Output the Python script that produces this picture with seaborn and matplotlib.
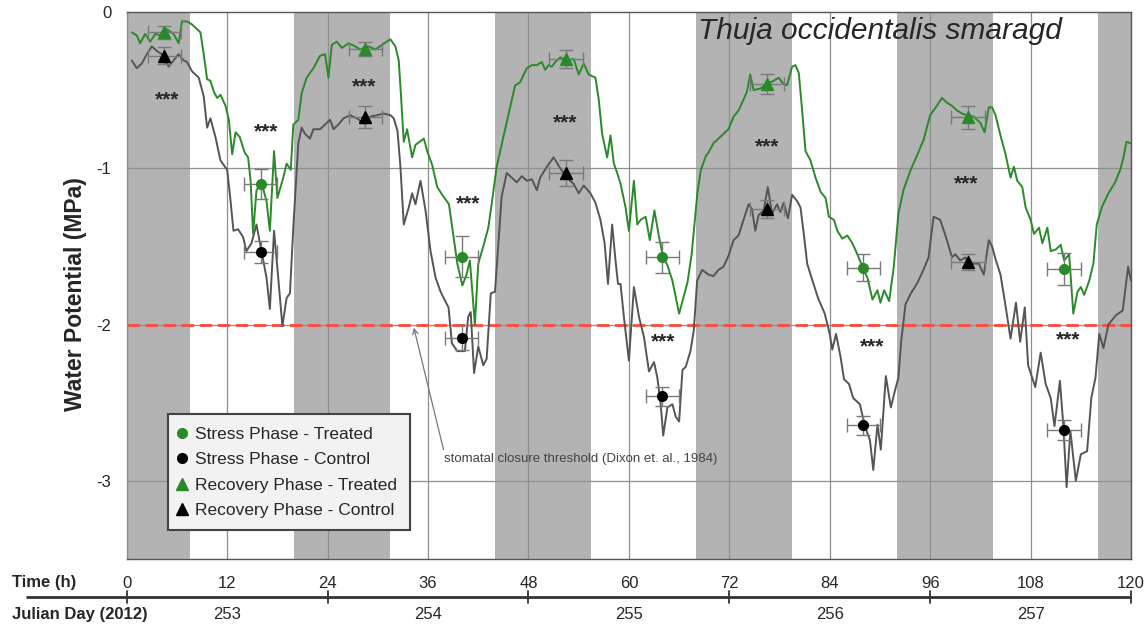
import numpy as np
import pandas as pd
import matplotlib
matplotlib.use("Agg")
import matplotlib.pyplot as plt
from matplotlib.lines import Line2D
import seaborn as sns

# ---- data (hours, MPa) ----
green_time = [0.6, 1.2, 1.6, 2.2, 2.8, 3.4, 4.0, 4.8, 5.6, 6.2, 6.6, 7.2, 7.8, 8.8, 9.2, 9.6, 10.0,
              10.4, 10.8, 11.2, 11.8, 12.2, 12.6, 13.0, 13.5, 14.1, 14.5, 14.8, 15.1, 15.5, 16.1,
              16.7, 17.1, 17.6, 18.0, 18.7, 19.1, 19.6, 19.9, 20.5, 20.9, 21.5, 22.3, 23.1, 23.7,
              24.1, 24.5, 25.1, 25.7, 26.5, 27.3, 27.9, 28.9, 29.7, 30.5, 31.5, 32.1, 32.5, 32.75,
              33.1, 33.5, 34.1, 34.5, 35.5, 35.9, 36.5, 37.1, 37.7, 38.5, 38.9, 39.5, 40.1, 40.6,
              41.0, 41.6, 42.0, 42.6, 43.2, 43.6, 44.2, 45.0, 45.6, 46.4, 47.0, 47.8, 48.4, 49.0,
              49.6, 50.0, 50.4, 50.8, 51.2, 51.8, 52.6, 53.4, 54.0, 54.6, 55.2, 56.0, 56.4, 56.8,
              57.4, 57.8, 58.2, 58.6, 59.0, 59.6, 60.0, 60.6, 61.0, 61.4, 62.0, 62.5, 63.05, 63.6,
              64.1, 64.6, 65.2, 66.0, 66.4, 67.0, 67.5, 68.2, 68.6, 69.2, 69.5, 70.1, 70.9, 71.9,
              72.5, 73.1, 73.7, 74.1, 74.5, 74.9, 75.7, 76.5, 77.3, 77.9, 78.3, 78.9, 79.5, 79.9,
              80.3, 80.7, 81.1, 81.7, 82.3, 82.9, 83.5, 83.9, 84.5, 84.9, 85.5, 86.1, 86.7, 87.3,
              87.9, 88.5, 89.1, 89.7, 90.05, 90.5, 91.1, 91.65, 92.2, 92.8, 93.6, 94.4, 95.2, 96.0,
              96.8, 97.4, 98.0, 98.6, 99.2, 99.8, 100.4, 101.2, 102.0, 102.5, 103.0, 103.4, 103.8,
              104.4, 105.0, 105.6, 106.0, 106.4, 107.0, 107.4, 108.0, 108.4, 109.0, 109.4, 110.0,
              110.4, 111.0, 111.6, 112.0, 112.6, 112.8, 113.1, 113.6, 114.0, 114.4, 115.0, 115.5,
              115.9, 116.5, 117.3, 118.1, 118.7, 119.1, 119.45, 119.95]
green_psi = [-0.13, -0.15, -0.20, -0.14, -0.19, -0.14, -0.15, -0.11, -0.14, -0.20, -0.06, -0.06,
             -0.08, -0.13, -0.27, -0.43, -0.44, -0.51, -0.55, -0.53, -0.60, -0.69, -0.91, -0.77,
             -0.80, -0.90, -0.93, -1.08, -1.42, -1.14, -1.09, -1.21, -1.40, -0.89, -1.19, -1.06,
             -0.97, -1.01, -0.72, -0.69, -0.52, -0.42, -0.36, -0.28, -0.27, -0.42, -0.21, -0.19,
             -0.23, -0.20, -0.22, -0.24, -0.22, -0.24, -0.21, -0.175, -0.22, -0.31, -0.52, -0.83,
             -0.75, -0.93, -0.85, -0.81, -0.89, -0.98, -1.12, -1.17, -1.23, -1.38, -1.61, -1.75,
             -1.68, -1.59, -2.00, -1.61, -1.50, -1.38, -1.23, -0.99, -0.80, -0.66, -0.47, -0.45,
             -0.36, -0.34, -0.34, -0.32, -0.37, -0.34, -0.35, -0.32, -0.29, -0.31, -0.30, -0.40,
             -0.33, -0.40, -0.42, -0.56, -0.78, -0.93, -0.79, -0.97, -1.03, -1.10, -1.25, -1.40,
             -1.08, -1.36, -1.33, -1.31, -1.46, -1.27, -1.44, -1.57, -1.62, -1.72, -1.93, -1.85,
             -1.73, -1.55, -1.15, -1.01, -0.92, -0.90, -0.84, -0.80, -0.75, -0.67, -0.63, -0.56,
             -0.51, -0.40, -0.50, -0.49, -0.46, -0.44, -0.42, -0.45, -0.47, -0.35, -0.34, -0.39,
             -0.63, -0.89, -0.95, -1.06, -1.15, -1.19, -1.31, -1.33, -1.40, -1.45, -1.43, -1.48,
             -1.55, -1.63, -1.70, -1.84, -1.78, -1.86, -1.78, -1.85, -1.63, -1.29, -1.14, -1.02,
             -0.92, -0.82, -0.66, -0.60, -0.55, -0.58, -0.60, -0.63, -0.65, -0.66, -0.67, -0.71,
             -0.77, -0.61, -0.61, -0.66, -0.79, -0.91, -1.06, -0.99, -1.08, -1.12, -1.25, -1.33,
             -1.42, -1.38, -1.48, -1.38, -1.53, -1.52, -1.49, -1.59, -1.55, -1.70, -1.93, -1.79,
             -1.76, -1.81, -1.72, -1.61, -1.36, -1.25, -1.16, -1.09, -1.01, -0.93, -0.83, -0.84]

control_time = [0.6, 1.2, 1.8, 2.4, 3.0, 3.6, 4.2, 5.0, 5.6, 6.2, 6.8, 7.2, 7.8, 8.6, 9.2, 9.6,
                10.0, 10.6, 11.2, 12.0, 12.35, 12.75, 13.3, 13.9, 14.3, 14.9, 15.5, 16.1, 16.7,
                17.1, 17.6, 18.1, 18.6, 19.1, 19.5, 19.9, 20.5, 20.9, 21.3, 21.9, 22.3, 23.1,
                23.7, 24.3, 24.7, 25.3, 25.9, 26.7, 27.5, 28.5, 29.1, 29.9, 30.7, 31.5, 31.9,
                32.35, 32.7, 33.1, 33.7, 34.1, 34.5, 35.1, 35.7, 36.3, 36.9, 37.5, 38.05, 38.45,
                38.85, 39.5, 40.4, 40.8, 41.1, 41.5, 42.0, 42.6, 43.0, 43.5, 44.0, 44.4, 44.8,
                45.4, 46.0, 46.6, 47.2, 47.8, 48.4, 49.0, 49.4, 50.2, 51.0, 51.8, 52.6, 53.4,
                54.0, 54.6, 55.4, 56.0, 56.6, 57.1, 57.5, 58.0, 58.4, 58.7, 59.0, 59.4, 60.0,
                60.6, 61.2, 61.8, 62.4, 63.0, 63.4, 63.8, 64.1, 64.6, 65.2, 65.6, 66.0, 66.4,
                66.8, 67.35, 67.75, 68.15, 68.75, 69.5, 70.1, 70.7, 71.3, 71.9, 72.5, 73.1,
                73.7, 74.3, 74.7, 75.1, 75.5, 76.1, 76.6, 77.1, 77.7, 78.1, 78.5, 79.0, 79.5,
                80.1, 80.5, 80.9, 81.3, 81.7, 82.6, 83.4, 84.0, 84.3, 84.75, 85.3, 85.7, 86.3,
                86.8, 87.6, 88.2, 88.8, 89.2, 89.7, 90.1, 90.7, 91.3, 91.8, 92.2, 92.55, 93.05,
                93.7, 94.5, 95.2, 95.8, 96.4, 97.2, 98.0, 98.6, 99.0, 99.6, 100.2, 100.6, 101.2,
                101.8, 102.4, 103.0, 103.4, 103.8, 104.4, 105.0, 105.6, 106.25, 106.75, 107.3,
                107.7, 108.55, 109.2, 109.8, 110.4, 110.85, 111.5, 111.9, 112.3, 112.75, 113.4,
                114.0, 114.75, 115.25, 115.75, 116.2, 116.7, 117.3, 118.2, 119.0, 119.65, 120.0]
control_psi = [-0.31, -0.36, -0.33, -0.27, -0.22, -0.25, -0.27, -0.35, -0.31, -0.27, -0.31, -0.32,
               -0.38, -0.42, -0.54, -0.74, -0.68, -0.80, -0.95, -1.01, -1.18, -1.40, -1.39,
               -1.44, -1.53, -1.48, -1.36, -1.53, -1.70, -1.90, -1.40, -1.70, -2.01, -1.83,
               -1.80, -1.38, -0.84, -0.74, -0.78, -0.81, -0.75, -0.75, -0.72, -0.69, -0.75,
               -0.72, -0.68, -0.66, -0.68, -0.72, -0.67, -0.66, -0.65, -0.66, -0.68, -0.76,
               -0.99, -1.36, -1.25, -1.16, -1.23, -1.08, -1.27, -1.53, -1.70, -1.79, -1.85,
               -1.89, -2.12, -2.17, -2.17, -1.95, -1.92, -2.31, -2.14, -2.26, -2.22, -1.80,
               -1.79, -1.48, -1.18, -1.03, -1.06, -1.09, -1.05, -1.08, -1.07, -1.14, -1.06,
               -0.99, -0.93, -1.00, -1.06, -1.10, -1.16, -1.11, -1.16, -1.22, -1.33, -1.48,
               -1.74, -1.36, -1.59, -1.74, -1.74, -1.95, -2.23, -1.76, -1.95, -2.08, -2.30,
               -2.24, -2.34, -2.51, -2.71, -2.53, -2.51, -2.59, -2.62, -2.29, -2.27, -2.17,
               -2.04, -1.72, -1.65, -1.68, -1.69, -1.65, -1.63, -1.56, -1.46, -1.43, -1.33,
               -1.23, -1.26, -1.40, -1.30, -1.27, -1.12, -1.29, -1.23, -1.28, -1.22, -1.32,
               -1.17, -1.21, -1.25, -1.42, -1.61, -1.68, -1.83, -1.93, -2.06, -2.16, -2.06,
               -2.21, -2.35, -2.38, -2.47, -2.51, -2.65, -2.74, -2.93, -2.64, -2.80, -2.33,
               -2.53, -2.42, -2.34, -2.10, -1.87, -1.80, -1.73, -1.65, -1.57, -1.31, -1.33,
               -1.46, -1.57, -1.55, -1.59, -1.57, -1.61, -1.61, -1.61, -1.68, -1.46, -1.50,
               -1.58, -1.68, -1.88, -2.09, -1.86, -2.11, -1.89, -2.26, -2.40, -2.18, -2.38,
               -2.47, -2.65, -2.36, -2.64, -3.04, -2.68, -3.00, -2.83, -2.81, -2.47, -2.34,
               -2.06, -2.15, -2.00, -1.94, -1.91, -1.63, -1.72]

# point measurements (mean +/- error)
recovery_time = [4.5, 28.5, 52.5, 76.5, 100.5]
recovery_treated = [-0.13, -0.235, -0.30, -0.46, -0.675]
recovery_treated_err = [0.04, 0.045, 0.06, 0.065, 0.075]
recovery_control = [-0.28, -0.67, -1.03, -1.26, -1.60]
recovery_control_err = [0.055, 0.07, 0.085, 0.06, 0.05]
stress_time = [16, 40, 64, 88, 112]
stress_treated = [-1.10, -1.565, -1.57, -1.635, -1.645]
stress_treated_err = [0.095, 0.13, 0.10, 0.085, 0.10]
stress_control = [-1.535, -2.085, -2.46, -2.645, -2.675]
stress_control_err = [0.07, 0.08, 0.06, 0.06, 0.065]
time_err = 2.0

# significance labels
star_time = [4.8, 16.7, 28.4, 40.8, 52.4, 64.1, 76.5, 89.0, 100.3, 112.5]
star_psi = [-0.56, -0.77, -0.48, -1.23, -0.71, -2.11, -0.86, -2.14, -1.10, -2.10]

# night periods (hours)
night_start = [-4, 20, 44, 68, 92, 116]
night_end = [7.5, 31.5, 55.5, 79.5, 103.5, 127.5]

julian_days = ["253", "254", "255", "256", "257"]
threshold = -2.0

GREEN = "#2a8a2a"
GRAY = "#555555"

sns.set_style("white")
plt.rcParams['font.family'] = ['Liberation Sans', 'DejaVu Sans']
plt.rcParams['axes.unicode_minus'] = False

fig = plt.figure(figsize=(11.47, 6.25), dpi=100)
ax = fig.add_axes([0.1105, 0.1056, 0.8756, 0.8752])

# night shading
for s, e in zip(night_start, night_end):
    ax.axvspan(s, e, color="#b3b3b3", lw=0, zorder=0)

# grid
for t in range(0, 121, 12):
    ax.axvline(t, color="#8f8f8f", lw=0.9, zorder=1)
for v in [-1, -2, -3]:
    ax.axhline(v, color="#8f8f8f", lw=0.9, zorder=1)

# threshold
ax.axhline(threshold, color="#ff4a3a", lw=2, dashes=(4.5, 2), zorder=2)

# continuous traces
green_df = pd.DataFrame({"t": green_time, "psi": green_psi})
control_df = pd.DataFrame({"t": control_time, "psi": control_psi})
sns.lineplot(data=control_df, x="t", y="psi", color=GRAY, lw=1.4, ax=ax, zorder=3)
sns.lineplot(data=green_df, x="t", y="psi", color=GREEN, lw=1.4, ax=ax, zorder=3)

# measured points with error bars
ebk = dict(ecolor="#7a7a7a", elinewidth=1, capsize=5, capthick=1, ls="none", zorder=4)
ax.errorbar(recovery_time, recovery_treated, xerr=time_err, yerr=recovery_treated_err,
            fmt="^", color=GREEN, ms=8, **ebk)
ax.errorbar(recovery_time, recovery_control, xerr=time_err, yerr=recovery_control_err,
            fmt="^", color="black", ms=8, **ebk)
ax.errorbar(stress_time, stress_treated, xerr=time_err, yerr=stress_treated_err,
            fmt="o", color=GREEN, ms=7, **ebk)
ax.errorbar(stress_time, stress_control, xerr=time_err, yerr=stress_control_err,
            fmt="o", color="black", ms=7, **ebk)

for t, v in zip(star_time, star_psi):
    ax.text(t, v, "***", ha="center", va="center", fontsize=15, fontweight="bold", zorder=5)

ax.text(68.3, -0.12, "Thuja occidentalis smaragd", fontsize=21.5, style="italic",
        ha="left", va="center", zorder=5)

ax.annotate("stomatal closure threshold (Dixon et. al., 1984)", xy=(34.3, -2.02),
            xytext=(37.95, -2.86), fontsize=9.5, color="#444444", ha="left", va="center",
            arrowprops=dict(arrowstyle="->", color="#777777", lw=0.9, relpos=(0, 1),
                            shrinkA=0, shrinkB=0),
            zorder=5)

ax.set_xlim(0, 120)
ax.set_ylim(-3.5, 0)
ax.set_xlabel("")
ax.set_ylabel("Water Potential (MPa)", fontsize=16.5, fontweight="bold")
ax.yaxis.set_label_coords(-0.040, 0.4845)

ax.set_yticks([0, -1, -2, -3])
ax.set_yticklabels(["0", "-1", "-2", "-3"], fontsize=12)
ax.tick_params(axis="y", length=8, color="#8f8f8f", width=0.9, pad=3)
ax.set_xticks(range(0, 121, 12))
ax.set_xticklabels([str(t) for t in range(0, 121, 12)], fontsize=12)
ax.set_xticks(range(0, 121, 24), minor=True)
ax.tick_params(axis="x", which="major", length=0, pad=12)
ax.tick_params(axis="x", which="minor", length=10, color="#666666", width=1)
for sp in ax.spines.values():
    sp.set_color("#555555")
    sp.set_linewidth(1)
    sp.set_visible(True)
ax.spines["left"].set_color("#8f8f8f")

# legend
handles = [
    Line2D([], [], marker="o", color=GREEN, ls="none", ms=7),
    Line2D([], [], marker="o", color="black", ls="none", ms=7),
    Line2D([], [], marker="^", color=GREEN, ls="none", ms=8),
    Line2D([], [], marker="^", color="black", ls="none", ms=8),
]
labels = ["Stress Phase - Treated", "Stress Phase - Control",
          "Recovery Phase - Treated", "Recovery Phase - Control"]
leg = ax.legend(handles, labels, loc="upper left", bbox_to_anchor=(0.0408, 0.2645),
                borderaxespad=0, fontsize=12.5, frameon=True, fancybox=False, framealpha=1,
                handlelength=0.3, handletextpad=0.6, labelspacing=0.6, borderpad=0.7)
leg.get_frame().set_facecolor("#f2f2f2")
leg.get_frame().set_edgecolor("#444444")
leg.get_frame().set_linewidth(1.5)
leg.set_zorder(6)

# secondary axis: Julian day
trans = ax.get_xaxis_transform()
ax.plot([-12, 120], [-0.0695, -0.0695], transform=trans, color="#333333", lw=2,
        clip_on=False, solid_capstyle="butt")
for t in range(0, 121, 24):
    ax.plot([t, t], [-0.058, -0.081], transform=trans, color="#333333", lw=1.3,
            clip_on=False)
for i, d in enumerate(julian_days):
    ax.text(12 + 24 * i, -0.102, d, transform=trans, ha="center", va="center",
            fontsize=12, clip_on=False)

fig.text(12 / 1147, 1 - 582 / 625, "Time (h)", fontsize=12, fontweight="bold",
         ha="left", va="center")
fig.text(12 / 1147, 1 - 615 / 625, "Julian Day (2012)", fontsize=12, fontweight="bold",
         ha="left", va="center")

fig.savefig("out.png", dpi=100)
